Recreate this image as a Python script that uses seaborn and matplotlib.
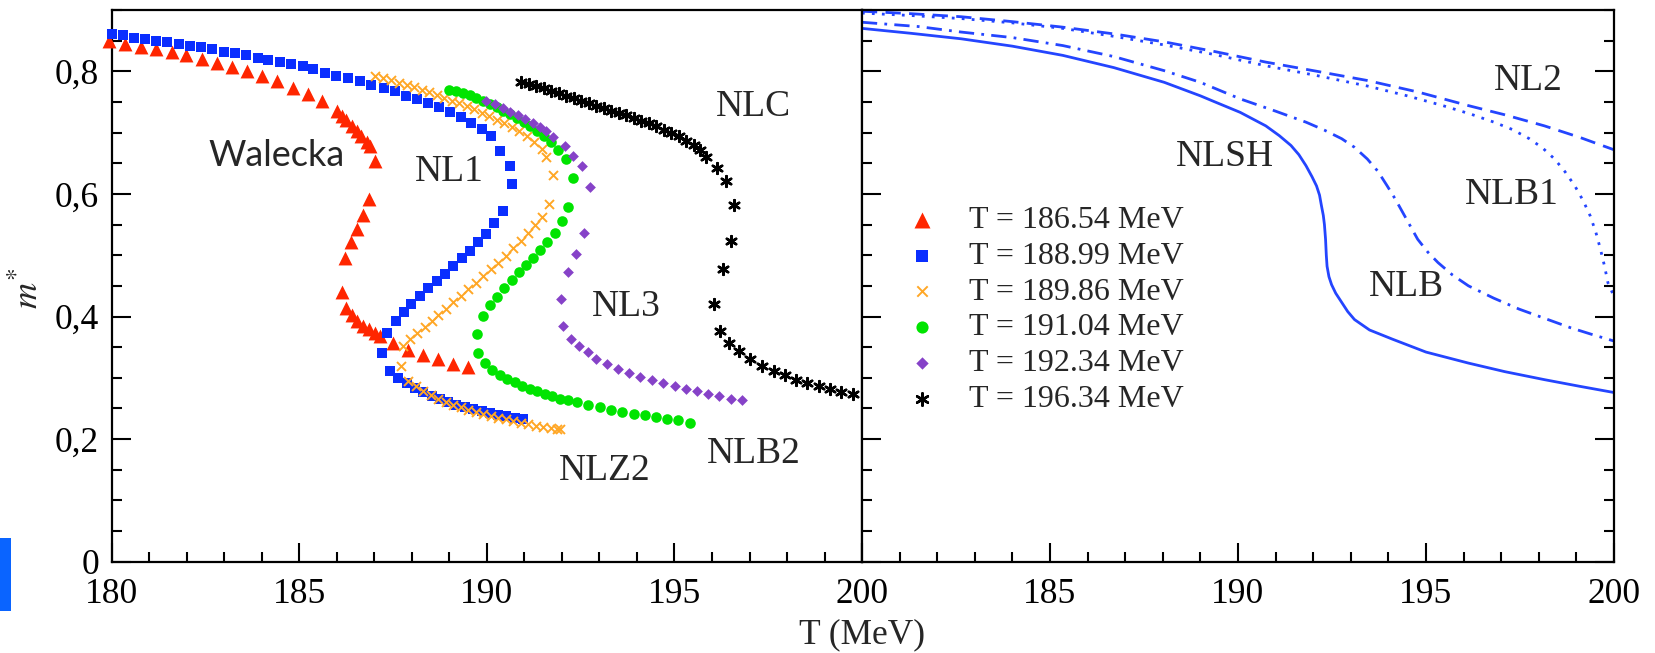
import matplotlib
matplotlib.use("Agg")
import matplotlib.pyplot as plt
from matplotlib.ticker import MultipleLocator, FixedLocator, FixedFormatter
from matplotlib.patches import Rectangle
import pandas as pd
import seaborn as sns

sns.set_theme(style="white", rc={"axes.edgecolor": "black", "axes.linewidth": 1.6})
plt.rcParams["font.family"] = ["Liberation Serif", "DejaVu Serif"]
plt.rcParams["mathtext.fontset"] = "stix"

# ---------------- left panel: m* vs T for the first-order models ----------------
walecka_T = [179.93, 180.36, 180.79, 181.19, 181.60, 181.99, 182.40, 182.80, 183.21, 183.61,
             184.02, 184.42, 184.84, 185.24, 185.62, 186.00, 186.13, 186.26, 186.40, 186.53,
             186.66, 186.80, 186.88, 187.02, 186.87, 186.71, 186.55, 186.37, 186.22, 186.13,
             186.26, 186.40, 186.55, 186.71, 186.87, 187.02, 187.15, 187.50, 187.90, 188.30,
             188.70, 189.10, 189.50]
walecka_m = [0.849, 0.845, 0.840, 0.836, 0.831, 0.826, 0.820, 0.813, 0.807, 0.800,
             0.792, 0.784, 0.773, 0.763, 0.751, 0.736, 0.727, 0.720, 0.711, 0.703,
             0.695, 0.685, 0.678, 0.654, 0.591, 0.565, 0.542, 0.521, 0.496, 0.440,
             0.414, 0.402, 0.392, 0.385, 0.379, 0.373, 0.369, 0.356, 0.346, 0.337,
             0.330, 0.323, 0.317]

nl1_T = [180.00, 180.31, 180.60, 180.88, 181.19, 181.48, 181.79, 182.09, 182.39, 182.69,
         182.99, 183.29, 183.59, 183.90, 184.18, 184.50, 184.78, 185.10, 185.38, 185.69,
         185.99, 186.30, 186.62, 186.92, 187.25, 187.54, 187.85, 188.14, 188.43, 188.73,
         189.01, 189.30, 189.58, 189.87, 190.11, 190.35, 190.61, 190.68,
         190.43, 190.19, 189.99, 189.77, 189.55, 189.33, 189.10, 188.88, 188.66, 188.44,
         188.22, 187.99, 187.79, 187.58, 187.35, 187.20, 187.42, 187.64, 187.86, 188.08,
         188.30, 188.53, 188.75, 188.97, 189.19, 189.41, 189.64, 189.86, 190.08, 190.30,
         190.52, 190.75, 190.97]
nl1_m = [0.861, 0.859, 0.855, 0.853, 0.850, 0.848, 0.845, 0.842, 0.840, 0.836,
         0.832, 0.830, 0.826, 0.822, 0.819, 0.815, 0.812, 0.808, 0.804, 0.797,
         0.793, 0.789, 0.784, 0.778, 0.772, 0.768, 0.759, 0.754, 0.748, 0.741,
         0.734, 0.725, 0.716, 0.706, 0.695, 0.670, 0.646, 0.616,
         0.572, 0.552, 0.535, 0.521, 0.507, 0.495, 0.482, 0.470, 0.458, 0.446,
         0.434, 0.421, 0.407, 0.392, 0.373, 0.340, 0.311, 0.300, 0.292, 0.284,
         0.277, 0.271, 0.266, 0.261, 0.256, 0.252, 0.249, 0.246, 0.243, 0.240,
         0.237, 0.235, 0.233]

nlz2_T = [187.02, 187.24, 187.46, 187.66, 187.86, 188.06, 188.26, 188.46, 188.66, 188.86,
          189.06, 189.26, 189.46, 189.65, 189.86, 190.06, 190.26, 190.45, 190.66, 190.86,
          191.06, 191.25, 191.46, 191.59, 191.77,
          191.66, 191.46, 191.28, 191.10, 190.90, 190.70, 190.50, 190.30, 190.11, 189.90,
          189.71, 189.50, 189.31, 189.10, 188.91, 188.70, 188.53, 188.35, 188.14, 187.95,
          187.77, 187.71, 187.90, 188.11, 188.30, 188.51, 188.70, 188.91, 189.10, 189.31,
          189.50, 189.71, 189.90, 190.11, 190.30, 190.51, 190.70, 190.90, 191.10, 191.30,
          191.50, 191.70, 191.86, 191.94]
nlz2_m = [0.793, 0.789, 0.785, 0.781, 0.778, 0.774, 0.770, 0.766, 0.762, 0.757,
          0.752, 0.748, 0.743, 0.738, 0.732, 0.727, 0.721, 0.716, 0.709, 0.702,
          0.694, 0.685, 0.674, 0.661, 0.631,
          0.583, 0.562, 0.549, 0.537, 0.523, 0.511, 0.499, 0.488, 0.477, 0.466,
          0.455, 0.445, 0.434, 0.424, 0.413, 0.402, 0.392, 0.383, 0.373, 0.363,
          0.352, 0.319, 0.294, 0.286, 0.278, 0.272, 0.266, 0.261, 0.256, 0.252,
          0.248, 0.244, 0.241, 0.238, 0.235, 0.232, 0.229, 0.226, 0.224, 0.222,
          0.220, 0.218, 0.217, 0.217]

nlb2_T = [189.00, 189.18, 189.36, 189.54, 189.72, 189.90, 190.08, 190.26, 190.44, 190.62,
          190.80, 190.98, 191.16, 191.34, 191.52, 191.72, 191.90, 192.10, 192.30,
          192.17, 192.01, 191.81, 191.61, 191.41, 191.23, 191.04, 190.86, 190.66, 190.45,
          190.27, 190.08, 189.90, 189.73, 189.77, 189.95, 190.15, 190.35, 190.55, 190.75,
          190.95, 191.15, 191.35, 191.54, 191.75, 191.94, 192.15, 192.39, 192.69, 193.01,
          193.30, 193.60, 193.92, 194.21, 194.52, 194.80, 195.09, 195.41]
nlb2_m = [0.770, 0.768, 0.765, 0.762, 0.757, 0.752, 0.747, 0.742, 0.736, 0.730,
          0.724, 0.717, 0.710, 0.702, 0.694, 0.684, 0.672, 0.657, 0.626,
          0.578, 0.555, 0.537, 0.522, 0.509, 0.496, 0.484, 0.472, 0.460, 0.446,
          0.432, 0.418, 0.401, 0.372, 0.341, 0.324, 0.313, 0.305, 0.298, 0.293,
          0.287, 0.282, 0.278, 0.274, 0.270, 0.266, 0.263, 0.260, 0.256, 0.252,
          0.248, 0.245, 0.241, 0.239, 0.236, 0.233, 0.231, 0.227]

nl3_T = [189.99, 190.21, 190.42, 190.61, 190.82, 191.01, 191.22, 191.41, 191.59, 191.77,
         192.08, 192.30, 192.54, 192.76,
         192.58, 192.37, 192.17, 191.99, 192.02, 192.24, 192.46, 192.70, 192.90, 193.20,
         193.50, 193.79, 194.09, 194.40, 194.70, 195.01, 195.30, 195.60, 195.89, 196.20,
         196.50, 196.80]
nl3_m = [0.751, 0.746, 0.740, 0.734, 0.729, 0.722, 0.716, 0.709, 0.702, 0.692,
         0.678, 0.662, 0.645, 0.612,
         0.536, 0.502, 0.472, 0.429, 0.384, 0.364, 0.352, 0.342, 0.331, 0.323,
         0.315, 0.308, 0.302, 0.296, 0.292, 0.286, 0.282, 0.278, 0.274, 0.270,
         0.266, 0.263]

nlc_T = [190.92, 191.13, 191.32, 191.52, 191.72, 191.93, 192.12, 192.32, 192.52, 192.72,
         192.92, 193.12, 193.32, 193.52, 193.72, 193.92, 194.12, 194.32, 194.52, 194.71,
         194.92, 195.12, 195.32, 195.51, 195.68, 195.85, 196.13, 196.37, 196.60,
         196.52, 196.29, 196.05, 196.21, 196.45, 196.72, 197.02, 197.33, 197.64, 197.95,
         198.25, 198.54, 198.84, 199.15, 199.45, 199.76]
nlc_m = [0.783, 0.780, 0.776, 0.772, 0.768, 0.764, 0.759, 0.756, 0.752, 0.748,
         0.744, 0.740, 0.736, 0.732, 0.728, 0.723, 0.719, 0.715, 0.710, 0.705,
         0.700, 0.694, 0.687, 0.680, 0.672, 0.660, 0.642, 0.621, 0.582,
         0.523, 0.478, 0.421, 0.376, 0.357, 0.343, 0.330, 0.319, 0.311, 0.304,
         0.297, 0.292, 0.286, 0.281, 0.277, 0.273]

series_labels = ["T = 186.54 MeV", "T = 188.99 MeV", "T = 189.86 MeV",
                 "T = 191.04 MeV", "T = 192.34 MeV", "T = 196.34 MeV"]

# ---------------- right panel: smooth crossover curves ----------------
nlsh_T = [180.00, 181.30, 182.64, 184.00, 185.34, 186.70, 188.04, 189.00, 189.39, 190.06,
          190.74, 191.10, 191.41, 191.62, 191.81, 191.97, 192.09, 192.17, 192.22, 192.27,
          192.30, 192.33, 192.35, 192.37, 192.42, 192.49, 192.60, 192.76, 192.92, 193.10,
          193.50, 194.11, 195.00, 196.13, 197.10, 198.15, 199.10, 200.00]
nlsh_m = [0.870, 0.862, 0.853, 0.841, 0.826, 0.806, 0.782, 0.760, 0.750, 0.733,
          0.711, 0.695, 0.679, 0.664, 0.646, 0.628, 0.613, 0.598, 0.581, 0.565,
          0.550, 0.526, 0.500, 0.482, 0.465, 0.452, 0.438, 0.423, 0.408, 0.395,
          0.378, 0.363, 0.342, 0.324, 0.310, 0.297, 0.286, 0.276]

nlb_T = [180.00, 181.50, 182.64, 184.00, 185.34, 186.70, 188.04, 189.00, 190.06, 191.00,
         191.81, 192.30, 192.76, 193.10, 193.44, 193.72, 193.97, 194.18, 194.38, 194.58,
         194.78, 195.05, 195.32, 195.70, 196.13, 196.80, 197.48, 198.20, 198.83, 199.40,
         200.00]
nlb_m = [0.880, 0.873, 0.864, 0.855, 0.842, 0.824, 0.801, 0.782, 0.755, 0.735,
         0.717, 0.704, 0.690, 0.676, 0.657, 0.637, 0.613, 0.592, 0.570, 0.548,
         0.526, 0.505, 0.488, 0.468, 0.450, 0.430, 0.412, 0.396, 0.382, 0.371,
         0.360]

nl2_T = [180.00, 181.30, 182.64, 184.00, 185.34, 186.70, 188.04, 189.40, 190.74, 192.10,
         193.44, 194.80, 196.13, 197.10, 198.15, 199.10, 200.00]
nl2_m = [0.898, 0.894, 0.889, 0.881, 0.872, 0.861, 0.848, 0.832, 0.815, 0.800,
         0.785, 0.766, 0.744, 0.729, 0.711, 0.692, 0.672]

nlb1_T = [180.00, 181.30, 182.64, 184.00, 185.34, 186.70, 188.04, 189.40, 190.74, 192.10,
          193.44, 194.50, 195.45, 196.20, 196.81, 197.30, 197.75, 198.10, 198.42, 198.70,
          198.96, 199.18, 199.37, 199.52, 199.64, 199.75, 199.84, 200.00]
nlb1_m = [0.895, 0.891, 0.886, 0.879, 0.870, 0.857, 0.843, 0.827, 0.809, 0.793,
          0.776, 0.760, 0.744, 0.730, 0.717, 0.705, 0.690, 0.675, 0.657, 0.636,
          0.613, 0.589, 0.564, 0.537, 0.510, 0.482, 0.455, 0.433]

# axis ticks and labels
x_major = [180, 185, 190, 195, 200]
x_labels_left = ["180", "185", "190", "195", "200"]
x_labels_right = ["", "185", "190", "195", "200"]
y_major = [0.0, 0.2, 0.4, 0.6, 0.8]
y_labels = ["0", "0,2", "0,4", "0,6", "0,8"]

# ---------------- figure ----------------
fig = plt.figure(figsize=(16.55, 6.53), dpi=100)
ax1 = fig.add_axes([0.0674, 0.1398, 0.4535, 0.8449])
ax2 = fig.add_axes([0.5208, 0.1398, 0.4544, 0.8449])

styles = [
    dict(color="#FF2600", marker="^", s=100, linewidth=0),
    dict(color="#0A2EFF", marker="s", s=55, linewidth=0),
    dict(color="#FFA726", marker="x", s=42, linewidth=1.4),
    dict(color="#00E400", marker="o", s=58, linewidth=0),
    dict(color="#8642C8", marker="D", s=30, linewidth=0),
    dict(color="#000000", marker=(6, 2, 0), s=60, linewidth=1.8),
]
left_data = [(walecka_T, walecka_m), (nl1_T, nl1_m), (nlz2_T, nlz2_m),
             (nlb2_T, nlb2_m), (nl3_T, nl3_m), (nlc_T, nlc_m)]

for (tt, mm), lab, st in zip(left_data, series_labels, styles):
    df = pd.DataFrame({"T": tt, "m": mm})
    kw = dict(st)
    if kw["marker"] == "x" or isinstance(kw["marker"], tuple):
        kw["edgecolor"] = kw["color"]
    sns.scatterplot(data=df, x="T", y="m", ax=ax1, label=lab, clip_on=False,
                    legend=False, zorder=3, **kw)

line_color = "#2445FF"
right_data = [
    (nl2_T, nl2_m, (0, (5.5, 3.0))),
    (nlb1_T, nlb1_m, (0, (1.0, 2.6))),
    (nlb_T, nlb_m, (0, (5.5, 2.6, 1.0, 2.6))),
    (nlsh_T, nlsh_m, "-"),
]
for tt, mm, ls in right_data:
    df = pd.DataFrame({"T": tt, "m": mm})
    sns.lineplot(data=df, x="T", y="m", ax=ax2, color=line_color, linewidth=2.0,
                 linestyle=ls, estimator=None, sort=False, legend=False)

for ax in (ax1, ax2):
    ax.set_xlim(180, 200)
    ax.set_ylim(0, 0.9)
    ax.set_xlabel("")
    ax.set_ylabel("")
    ax.xaxis.set_major_locator(FixedLocator(x_major))
    ax.xaxis.set_minor_locator(MultipleLocator(1))
    ax.yaxis.set_major_locator(FixedLocator(y_major))
    ax.yaxis.set_minor_locator(MultipleLocator(0.05))
    ax.tick_params(which="major", direction="in", length=13.5, width=1.5,
                   labelsize=25.5, pad=9, colors="black")
    ax.tick_params(which="minor", direction="in", length=7, width=1.5, colors="black")
    ax.tick_params(axis="x", which="major", pad=12)
    for sp in ax.spines.values():
        sp.set_color("black")
        sp.set_linewidth(1.6)
    ax.grid(False)

ax1.xaxis.set_major_formatter(FixedFormatter(x_labels_left))
ax2.xaxis.set_major_formatter(FixedFormatter(x_labels_right))
ax1.yaxis.set_major_formatter(FixedFormatter(y_labels))
ax1.tick_params(which="both", left=True, right=False, top=False, bottom=True)
ax2.tick_params(which="both", left=True, right=True, top=False, bottom=True,
                labelleft=False)

# curve names
ax1.text(184.40, 0.6455, "Walecka", family="Lato", fontsize=26, ha="center", va="baseline")
left_names = [("NL1", 188.99, 0.6214), ("NLC", 197.11, 0.7277), ("NL3", 193.72, 0.4007),
              ("NLZ2", 193.15, 0.1336), ("NLB2", 197.11, 0.1609)]
for name, tx, ty in left_names:
    ax1.text(tx, ty, name, fontsize=27, ha="center", va="baseline")
right_names = [("NL2", 197.71, 0.7702), ("NLSH", 189.65, 0.6460),
               ("NLB1", 197.28, 0.5833), ("NLB", 194.48, 0.4334)]
for name, tx, ty in right_names:
    ax2.text(tx, ty, name, fontsize=27, ha="center", va="baseline")

handles, labels = ax1.get_legend_handles_labels()
ax2.legend(handles, labels, loc="upper left", bbox_to_anchor=(0.0580, 0.645),
           frameon=False, fontsize=23, handlelength=1.0, handletextpad=1.0,
           labelspacing=0.2, borderpad=0, borderaxespad=0, markerscale=1.15)

fig.text(862 / 1655, 0.0153, "T (MeV)", fontsize=25.5, ha="center", va="baseline")
fig.text(0.0175, 0.559, r"$m^{*}$", fontsize=26, rotation=90, ha="center", va="center")

fig.add_artist(Rectangle((0, 42.3 / 653), 10.7 / 1655, 72.7 / 653,
                         transform=fig.transFigure, facecolor="#0A64FF", edgecolor="none"))

fig.savefig("out.png", dpi=100)
